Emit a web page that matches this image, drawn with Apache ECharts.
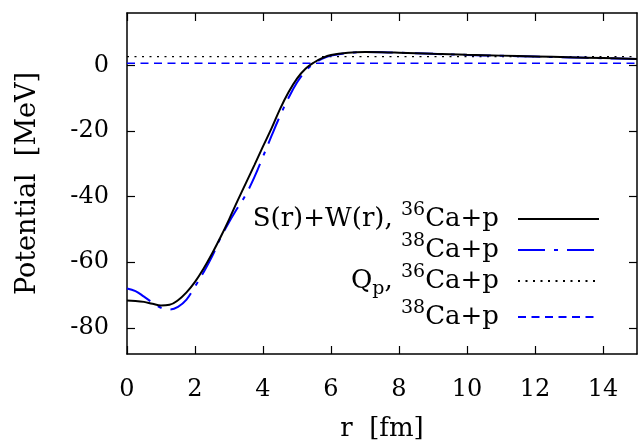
<!DOCTYPE html>
<html>
<head>
<meta charset="utf-8">
<script src="https://cdn.jsdelivr.net/npm/echarts@6/dist/echarts.min.js"></script>
<style>
html,body{margin:0;padding:0;background:#fff;}
#chart{width:639px;height:442px;}
</style>
</head>
<body>
<div id="chart"></div>
<script>
// r grid [fm] and potentials [MeV]
var rGrid = [0, 0.25, 0.5, 0.75, 1.0, 1.25, 1.5, 1.75, 2.0, 2.25, 2.5, 2.75, 3.0, 3.25, 3.5, 3.75,
             4.0, 4.25, 4.5, 4.75, 5.0, 5.25, 5.5, 5.75, 6.0, 6.5, 7.0, 7.5, 8, 9, 10, 11, 12, 13, 14, 15];
var pot36 = [-71.7, -71.8, -72.1, -72.7, -73.2, -73.0, -71.6, -69.2, -66.0, -62.0, -57.4, -52.4, -47.0, -41.3, -35.8, -30.3,
             -24.7, -19.2, -13.3, -8.2, -4.0, -1.0, 0.9, 2.3, 3.2, 3.9, 4.1, 4.05, 3.9, 3.55, 3.25, 3.0, 2.75, 2.5, 2.25, 2.0];
var pot38 = [-68.0, -68.8, -70.5, -72.3, -73.9, -74.4, -73.6, -71.4, -67.4, -63.1, -58.3, -52.6, -47.8, -43.5, -39.3, -34.0,
             -27.8, -21.5, -15.4, -9.9, -5.2, -1.7, 0.6, 2.1, 3.0, 3.8, 4.1, 4.05, 3.9, 3.55, 3.2, 2.95, 2.7, 2.45, 2.2, 1.95];
var qp36 = 2.7;
var qp38 = 0.65;
var xRange = [0, 15];
var yRange = [-88, 16];
var xTicks = [0, 2, 4, 6, 8, 10, 12, 14];
var yTicks = [-80, -60, -40, -20, 0];

var FONT = 'DejaVu Serif';
var chart = echarts.init(document.getElementById('chart'));

function pairs(xs, ys) {
    return xs.map(function (x, i) { return [x, ys[i]]; });
}
function flat(v) {
    return [[xRange[0], v], [xRange[1], v]];
}

var legendText = {
    s36: '{m|S(r)+W(r), }{sup|36}{e|Ca+p}',
    s38: '{sup|38}{e|Ca+p}',
    q36: '{m|Q}{sub|p}{m|, }{sup|36}{e|Ca+p}',
    q38: '{sup|38}{e|Ca+p}'
};

function frameAxis(pos, isX, show) {
    var a = {
        type: 'value',
        position: pos,
        min: isX ? xRange[0] : yRange[0],
        max: isX ? xRange[1] : yRange[1],
        axisLine: { show: true, onZero: false, lineStyle: { color: '#000', width: 1.5 } },
        axisTick: { show: true, inside: true, length: 8, customValues: isX ? xTicks : yTicks,
                    lineStyle: { color: '#000', width: 1.2 } },
        axisLabel: { show: show, customValues: isX ? xTicks : yTicks, color: '#000',
                     fontFamily: FONT, fontSize: 24, margin: isX ? 24 : 18 },
        splitLine: { show: false }
    };
    return a;
}

var xBottom = frameAxis('bottom', true, true);
xBottom.name = 'r  [fm]';
xBottom.nameLocation = 'middle';
xBottom.nameGap = 62;
xBottom.nameTextStyle = { fontFamily: FONT, fontSize: 26, color: '#000' };
var yLeft = frameAxis('left', false, true);
yLeft.name = 'Potential  [MeV]';
yLeft.nameLocation = 'middle';
yLeft.nameGap = 86;
yLeft.nameTextStyle = { fontFamily: FONT, fontSize: 27, color: '#000' };

var option = {
    animation: false,
    backgroundColor: '#fff',
    grid: { left: 127, right: 2, top: 13, bottom: 88, outerBoundsMode: 'none', containLabel: false },
    xAxis: [xBottom, frameAxis('top', true, false)],
    yAxis: [yLeft, frameAxis('right', false, false)],
    legend: {
        orient: 'vertical',
        align: 'right',
        right: 39,
        top: 201,
        padding: 0,
        itemGap: 0,
        itemWidth: 81,
        itemHeight: 10,
        itemStyle: { opacity: 0 },
        data: ['s36', 's38', 'q36', 'q38'],
        formatter: function (name) { return legendText[name]; },
        textStyle: {
            fontFamily: FONT, fontSize: 26, color: '#000',
            rich: {
                m: { fontFamily: FONT, fontSize: 26, lineHeight: 36, color: '#000' },
                e: { fontFamily: FONT, fontSize: 26, lineHeight: 36, color: '#000', padding: [0, 14, 0, 0] },
                sup: { fontFamily: FONT, fontSize: 19, lineHeight: 14, verticalAlign: 'top', color: '#000' },
                sub: { fontFamily: FONT, fontSize: 19, lineHeight: 14, verticalAlign: 'bottom', color: '#000' }
            }
        }
    },
    series: [
        {
            name: 'q36', type: 'line', symbol: 'none', z: 1,
            data: flat(qp36),
            itemStyle: { color: '#000' },
            lineStyle: { color: '#000', width: 1.3, type: [2, 5.5] }
        },
        {
            name: 'q38', type: 'line', symbol: 'none', z: 1,
            data: flat(qp38),
            itemStyle: { color: '#0000ff' },
            lineStyle: { color: '#0000ff', width: 1.5, type: [8, 5.5] }
        },
        {
            name: 's36', type: 'line', symbol: 'none', smooth: 0.4, z: 3,
            data: pairs(rGrid, pot36),
            itemStyle: { color: '#000' },
            lineStyle: { color: '#000', width: 2 }
        },
        {
            name: 's38', type: 'line', symbol: 'none', smooth: 0.4, z: 2,
            data: pairs(rGrid, pot38),
            itemStyle: { color: '#0000ff' },
            lineStyle: { color: '#0000ff', width: 2, type: [27, 9, 4, 9] }
        }
    ]
};
chart.setOption(option);
</script>
</body>
</html>
